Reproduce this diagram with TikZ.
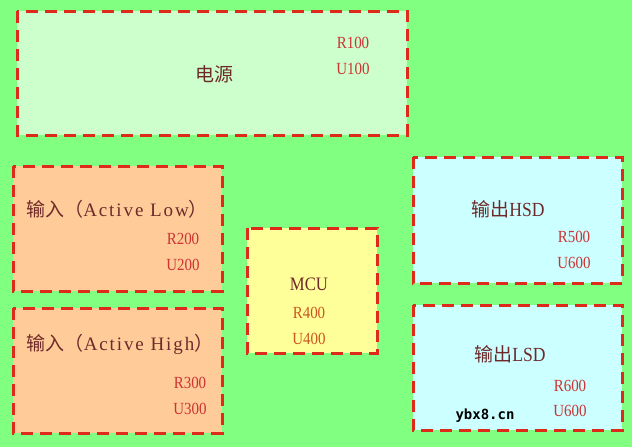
\documentclass[tikz,border=0pt]{standalone}
\usepackage{fontspec}
\setmainfont{Liberation Serif}
\newfontfamily\cjk{Noto Sans CJK SC}
\newfontfamily\lblfont[FakeStretch=0.88]{Liberation Serif}
\newfontfamily\latt[LetterSpace=10]{Liberation Serif}
\newfontfamily\wsans{DejaVu Sans Mono}
\definecolor{bg}{HTML}{80FF80}
\definecolor{bord}{HTML}{DD2A1A}
\definecolor{fpow}{HTML}{CCFFCC}
\definecolor{fin}{HTML}{FFCC99}
\definecolor{fmcu}{HTML}{FFFF99}
\definecolor{fout}{HTML}{CCFFFF}
\definecolor{ttl}{HTML}{6E2A2A}
\definecolor{lbl}{HTML}{CC3333}
\definecolor{lblm}{HTML}{CC5522}
\tikzset{
  blk/.style={draw=bord, line width=3pt, dash pattern=on 12pt off 7pt},
  ttext/.style={text=ttl, font=\fontsize{19}{21}\selectfont\cjk, inner sep=0pt},
  ltext/.style={text=lbl, font=\fontsize{17}{19}\selectfont\lblfont, inner sep=0pt},
}
\begin{document}
\begin{tikzpicture}[x=1pt,y=-1pt]
\fill[bg] (0,0) rectangle (632,447);
\useasboundingbox (0,0) rectangle (632,447);
% boxes
\draw[blk, fill=fpow] (17,11) rectangle (407,135);
\draw[blk, fill=fin] (13,166) rectangle (222,291);
\draw[blk, fill=fin] (13,308) rectangle (222,433);
\draw[blk, fill=fmcu] (247,228) rectangle (377,353);
\draw[blk, fill=fout] (413,157) rectangle (622,283);
\draw[blk, fill=fout] (413,305) rectangle (622,430);
% power
\node[ttext] (pw) at (214,74) {电源};
\node[ltext] (r100) at (353,43) {R100};
\node[ltext] (u100) at (353,69) {U100};
% input low
\node[ttext] (inl) at (117,209) {输入（{\latt\fontsize{19}{21}\selectfont Active Low}）};
\node[ltext] (r200) at (183,239) {R200};
\node[ltext] (u200) at (183,265) {U200};
% input high
\node[ttext] (inh) at (120,344) {输入（{\latt\fontsize{19}{21}\selectfont Active High}）};
\node[ltext] (r300) at (190,383) {R300};
\node[ltext] (u300) at (190,409) {U300};
% mcu
\node[ttext, font=\fontsize{19}{21}\selectfont\lblfont] (mcu) at (309,284) {MCU};
\node[ltext, text=lblm] (r400) at (309,313) {R400};
\node[ltext, text=lblm] (u400) at (309,339) {U400};
% hsd
\node[ttext] (hsd) at (508,209) {输出{\lblfont\fontsize{20}{22}\selectfont HSD}};
\node[ltext] (r500) at (574,237) {R500};
\node[ltext] (u600a) at (574,263) {U600};
% lsd
\node[ttext] (lsd) at (510,354) {输出{\lblfont\fontsize{20}{22}\selectfont LSD}};
\node[ltext] (r600) at (570,386) {R600};
\node[ltext] (u600b) at (570,411) {U600};
% watermark
\node[inner sep=0pt, font=\bfseries\wsans\fontsize{14}{16}\selectfont] (wm) at (485,416) {ybx8.cn};
\end{tikzpicture}
\end{document}
